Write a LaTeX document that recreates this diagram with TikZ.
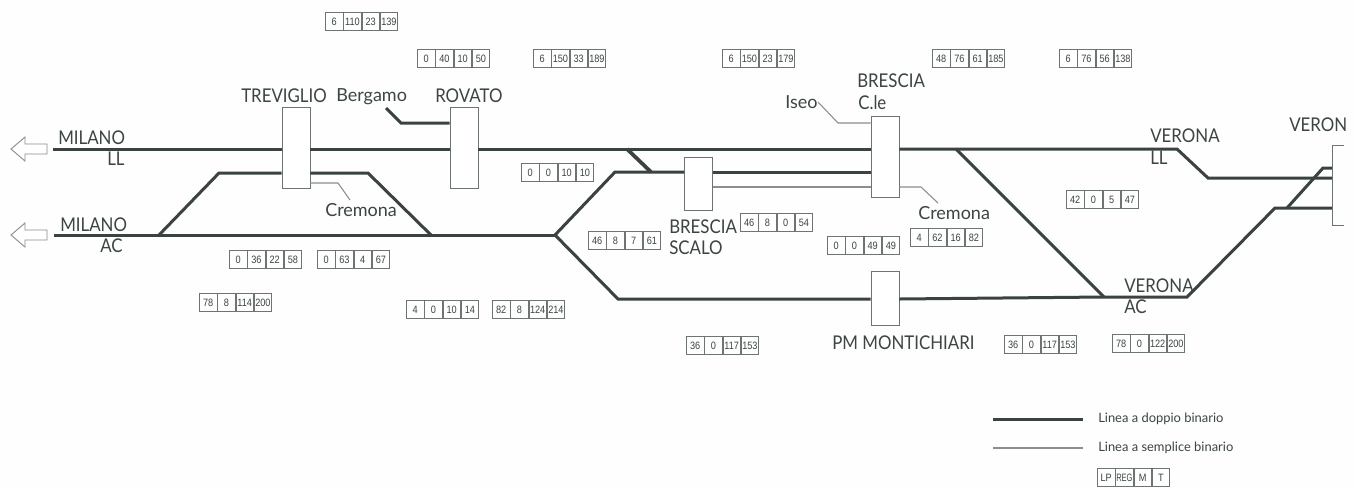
\documentclass[tikz,border=0pt]{standalone}
\usepackage{fontspec}
\usepackage{graphicx}
\setmainfont{Lato}
\newfontfamily\capfont[FakeStretch=0.89]{Lato}
\newfontfamily\cellfont[FakeStretch=0.86]{Liberation Sans}
\definecolor{trk}{HTML}{3A4242}
\definecolor{thn}{HTML}{8A8E8E}
\definecolor{bord}{HTML}{6E7474}
\definecolor{txt}{HTML}{3C4444}
\definecolor{pap}{HTML}{FDFEFD}
\tikzset{
  track/.style={draw=trk,line width=2.25pt,line join=miter},
  thinline/.style={draw=thn,line width=.8pt},
  station/.style={draw=bord,fill=white,line width=.7pt,minimum width=21pt,inner sep=0pt},
  cell/.style={draw=bord,line width=.5pt,minimum width=13.2pt,minimum height=13.6pt,inner sep=0pt,anchor=north west,font=\cellfont\fontsize{8}{9}\selectfont,text=txt},
  label/.style={anchor=base west,inner sep=0pt,text=txt,font=\capfont\fontsize{14.2}{16}\selectfont},
  slabel/.style={anchor=base west,inner sep=0pt,text=txt,font=\fontsize{13.5}{15}\selectfont},
  leglabel/.style={anchor=base west,inner sep=0pt,text=txt,font=\fontsize{9.7}{11}\selectfont},
  openarrow/.style={draw=thn,line width=.7pt,fill=white,line join=miter},
}
\newcommand{\tbl}[7]{%
  \node[cell] (#1a) at (#2,#3) {#4};
  \node[cell] (#1b) at (#1a.north east) {#5};
  \node[cell] (#1c) at (#1b.north east) {#6};
  \node[cell] (#1d) at (#1c.north east) {#7};
}
\begin{document}
\begin{tikzpicture}[x=.75pt,y=-.75pt]
\fill[pap] (0,0) rectangle (1354,487);
\useasboundingbox (0,0) rectangle (1354,487);

% stations
\node[station,minimum height=60.75pt] (tre) at (296,147.5) {};
\node[station,minimum height=60.75pt] (rov) at (464,147.5) {};
\node[station,minimum height=60.75pt] (bre) at (885,156.5) {};
\node[station,minimum height=39.75pt] (sca) at (698.5,183.5) {};
\node[station,minimum height=40pt] (mon) at (885,298.5) {};

% free ends and bends
\coordinate (mll) at (53,149);
\coordinate (mac) at (54,235);
\coordinate (la) at (159,235);
\coordinate (lb) at (219,173);
\coordinate (lc) at (368,173);
\coordinate (ld) at (431,235);
\coordinate (fork) at (555,235);
\coordinate (sa) at (615,172);
\coordinate (xa) at (627,149);
\coordinate (xb) at (651,172);
\coordinate (pa) at (618,299);
\coordinate (pb) at (1187,297);
\coordinate (da) at (956,149);
\coordinate (db) at (1104,297);
\coordinate (va) at (1177,149);
\coordinate (vb) at (1208,178);
\coordinate (ve) at (1332,178);
\coordinate (ua) at (1275,208);
\coordinate (ue) at (1332,208);
\coordinate (ca) at (1287,208);
\coordinate (cb) at (1323,168);
\coordinate (ce) at (1332,168);
\coordinate (bg) at (386,108);
\coordinate (bh) at (401,123);
\coordinate (cr) at (338,183);
\coordinate (cs) at (350,200);
\coordinate (is) at (818,102);
\coordinate (it) at (838,123);
\coordinate (ct) at (921,187);
\coordinate (cu) at (938,203);
\coordinate (lega) at (993,419);
\coordinate (legb) at (1083,419);
\coordinate (legc) at (993,448);
\coordinate (legd) at (1083,448);

% double track lines
\draw[track] (mll) -- (mll -| tre.west);
\draw[track] (mll -| tre.east) -- (mll -| rov.west);
\draw[track] (mll -| rov.east) -- (mll -| bre.west);
\draw[track] (mll -| bre.east) -- (va) -- (vb) -- (ve);
\draw[track] (mac) -- (fork);
\draw[track] (la) -- (lb) -- (lb -| tre.west);
\draw[track] (lc -| tre.east) -- (lc) -- (ld);
\draw[track] (bg) -- (bh) -- (bh -| rov.west);
\draw[track] (fork) -- (sa) -- (sa -| sca.west);
\draw[track] (sa -| sca.east) -- (sa -| bre.west);
\draw[track,line width=2.8pt] (xa) -- (xb);
\draw[track] (fork) -- (pa) -- (pa -| mon.west);
\draw[track] (pa -| mon.east) -- (db) -- (pb) -- (ua) -- (ue);
\draw[track] (da) -- (db);
\draw[track] (ca) -- (cb) -- (ce);

% single track lines
\draw[thinline] (713,187) -- (871,187);
\draw[thinline] (cr -| tre.east) -- (cr) -- (cs);
\draw[thinline] (is) -- (it) -- (it -| bre.west);
\draw[thinline] (ct -| bre.east) -- (ct) -- (cu);

% Verona station, open on the right
\draw[draw=bord,line width=.7pt] (1344,145) -- (1332,145) -- (1332,225) -- (1344,225);

% arrows towards Milano
\draw[openarrow] (11,149) -- (25,137) -- (25,144) -- (47,144) -- (47,154) -- (25,154) -- (25,161) -- cycle;
\draw[openarrow] (11,235) -- (25,223) -- (25,230) -- (47,230) -- (47,240) -- (25,240) -- (25,247) -- cycle;

% labels
\node[label] (t1) at (58,144) {MILANO};
\node[label] (t2) at (107,165) {LL};
\node[label] (t3) at (60,231) {MILANO};
\node[label] (t4) at (100,252) {AC};
\node[label] (t5) at (241,102) {TREVIGLIO};
\node[slabel] (t6) at (336,101) {Bergamo};
\node[label] (t7) at (435,102) {ROVATO};
\node[slabel] (t8) at (325,216) {Cremona};
\node[label] (t9) at (669,233) {BRESCIA};
\node[label] (t10) at (669,254) {SCALO};
\node[label] (t11) at (857,87) {BRESCIA};
\node[label] (t12) at (858,109) {C.le};
\node[slabel] (t13) at (785,108) {Iseo};
\node[slabel] (t14) at (918,219) {Cremona};
\node[label] (t15) at (1150,142) {VERONA};
\node[label] (t16) at (1150,164) {LL};
\node[label] (t17) at (1124,292) {VERONA};
\node[label] (t18) at (1124,313) {AC};
\node[label] (t19) at (832,349) {PM MONTICHIARI};
\node[label] (t20) at (1289,131) {VERON};

% tables
\tbl{a}{325}{12}{6}{110}{23}{139}
\tbl{b}{417}{49}{0}{40}{10}{50}
\tbl{c}{533}{49}{6}{150}{33}{189}
\tbl{d}{722}{49}{6}{150}{23}{179}
\tbl{e}{932}{49}{48}{76}{61}{185}
\tbl{f}{1059}{49}{6}{76}{56}{138}
\tbl{g}{521}{163}{0}{0}{10}{10}
\tbl{h}{588}{231}{46}{8}{7}{61}
\tbl{i}{740}{213}{46}{8}{0}{54}
\tbl{j}{827}{236}{0}{0}{49}{49}
\tbl{k}{910}{228}{4}{62}{16}{82}
\tbl{l}{1066}{190}{42}{0}{5}{47}
\tbl{m}{229}{250}{0}{36}{22}{58}
\tbl{n}{317}{250}{0}{63}{4}{67}
\tbl{o}{199}{293}{78}{8}{114}{200}
\tbl{p}{406}{300}{4}{0}{10}{14}
\tbl{q}{492}{300}{82}{8}{124}{214}
\tbl{r}{686}{336}{36}{0}{117}{153}
\tbl{s}{1004}{335}{36}{0}{117}{153}
\tbl{u}{1112}{334}{78}{0}{122}{200}
\tbl{v}{1097}{468}{LP}{\scalebox{.82}[1]{REG}}{M}{T}

% legend
\draw[track] (lega) -- (legb);
\draw[thinline] (legc) -- (legd);
\node[leglabel] (l1) at (1098,422) {Linea a doppio binario};
\node[leglabel] (l2) at (1098,451) {Linea a semplice binario};
\end{tikzpicture}
\end{document}
